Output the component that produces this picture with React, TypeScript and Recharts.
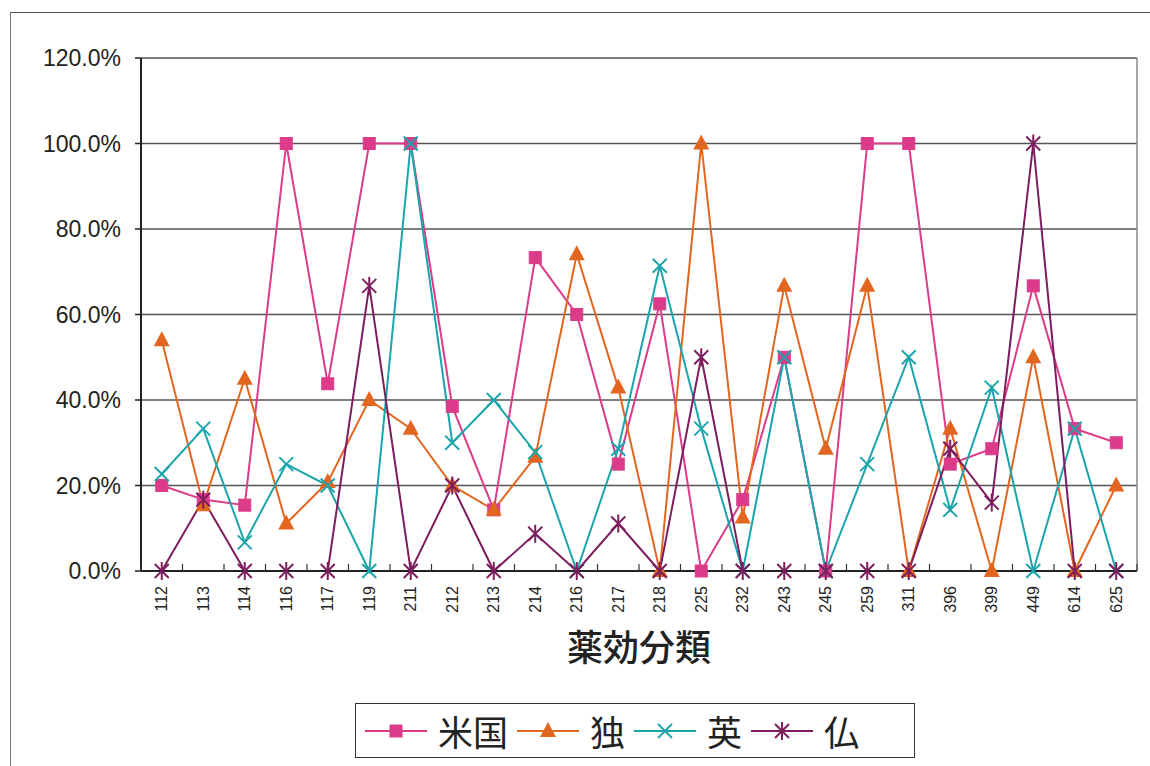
import { LineChart, Line, XAxis, YAxis, CartesianGrid } from "recharts"

const categories = ["112", "113", "114", "116", "117", "119", "211", "212", "213", "214", "216", "217", "218", "225", "232", "243", "245", "259", "311", "396", "399", "449", "614", "625"]
const usa = [20, 16.7, 15.4, 100, 43.8, 100, 100, 38.5, 14.3, 73.3, 60, 25, 62.5, 0, 16.7, 50, 0, 100, 100, 25, 28.6, 66.7, 33.3, 30]
const germany = [54, 15.4, 45, 11.1, 20.8, 40, 33.3, 20, 14.3, 26.7, 74.1, 42.9, 0, 100, 12.5, 66.7, 28.6, 66.7, 0, 33.3, 0, 50, 0, 20]
const uk = [22.7, 33.3, 6.7, 25, 20, 0, 100, 30, 40, 27.8, 0, 28.6, 71.4, 33.3, 0, 50, 0, 25, 50, 14.3, 42.9, 0, 33.3, 0]
const france = [0, 16.7, 0, 0, 0, 66.7, 0, 20, 0, 8.7, 0, 11.1, 0, 50, 0, 0, 0, 0, 0, 28.6, 16, 100, 0, 0]
const yTicks = [0, 20, 40, 60, 80, 100, 120]

const seriesNames = ["米国", "独", "英", "仏"]
const colors = ["#dc3b8a", "#e2661f", "#1ba5ab", "#7d1d5e"]
const markers = ["square", "triangle", "cross", "star"]

const data = categories.map((c, i) => ({ cat: c, usa: usa[i], germany: germany[i], uk: uk[i], france: france[i] }))

const W = 1150
const H = 766
const LEFT = 141
const RIGHT_W = 13
const TOP = 58
const XH = 195
const band = (W - LEFT - RIGHT_W) / categories.length

function Marker({ kind, cx, cy, color }: { kind: string; cx: number; cy: number; color: string }) {
  if (kind === "square") {
    return <rect x={cx - 6} y={cy - 6} width={12} height={12} fill={color} stroke={color} />
  }
  if (kind === "triangle") {
    return <polygon points={`${cx},${cy - 9} ${cx + 8},${cy + 6} ${cx - 8},${cy + 6}`} fill={color} />
  }
  if (kind === "cross") {
    return (
      <g stroke={color} strokeWidth={2}>
        <line x1={cx - 7} y1={cy - 7} x2={cx + 7} y2={cy + 7} />
        <line x1={cx - 7} y1={cy + 7} x2={cx + 7} y2={cy - 7} />
      </g>
    )
  }
  return (
    <g stroke={color} strokeWidth={2}>
      <line x1={cx - 7} y1={cy - 7} x2={cx + 7} y2={cy + 7} />
      <line x1={cx - 7} y1={cy + 7} x2={cx + 7} y2={cy - 7} />
      <line x1={cx} y1={cy - 9} x2={cx} y2={cy + 9} />
    </g>
  )
}

function makeDot(kind: string, color: string) {
  return (props: any) => {
    const { cx, cy, index } = props
    if (cx == null || cy == null) return <g key={`d-${kind}-${index}`} />
    return (
      <g key={`d-${kind}-${index}`}>
        <Marker kind={kind} cx={cx} cy={cy} color={color} />
      </g>
    )
  }
}

function XTick(props: any) {
  const { x, payload, index } = props
  const axisY = H - XH
  const ty = axisY + 15
  return (
    <g>
      <line x1={x - band / 2} y1={axisY} x2={x - band / 2} y2={axisY - 7} stroke="#333" strokeWidth={1.2} />
      {index === categories.length - 1 && (
        <line x1={x + band / 2} y1={axisY} x2={x + band / 2} y2={axisY - 7} stroke="#333" strokeWidth={1.2} />
      )}
      <text
        x={x}
        y={ty}
        transform={`rotate(-90 ${x} ${ty})`}
        textAnchor="end"
        dominantBaseline="central"
        fontSize={16}
        fontFamily="Liberation Sans, Arial, sans-serif"
        fill="#222"
      >
        {payload.value}
      </text>
    </g>
  )
}

export default function App() {
  const keys = ["usa", "germany", "uk", "france"]
  return (
    <div style={{ position: "absolute", left: 0, top: 0, width: W, height: H, background: "#fff", overflow: "hidden" }}>
      <div style={{ position: "absolute", left: 10, top: 12, width: W - 10, height: H - 12, borderTop: "1.5px solid #555", borderLeft: "1.5px solid #777" }} />
      <LineChart width={W} height={H} data={data} margin={{ top: TOP, right: 0, bottom: 0, left: 0 }}>
        <CartesianGrid vertical={false} stroke="#555" strokeWidth={1.5} />
        <XAxis
          dataKey="cat"
          height={XH}
          interval={0}
          padding={{ left: band / 2, right: band / 2 }}
          tick={<XTick />}
          tickLine={false}
          tickSize={0}
          axisLine={{ stroke: "#222", strokeWidth: 2 }}
          label={{ value: "薬効分類", position: "insideTop", offset: 64, fontSize: 36, fontWeight: 500, fill: "#222", fontFamily: "Noto Sans CJK JP, sans-serif" }}
        />
        <YAxis
          width={LEFT}
          domain={[0, 120]}
          ticks={yTicks}
          tickFormatter={(v: number) => v.toFixed(1) + "%"}
          tickSize={6}
          tickMargin={14}
          tickLine={{ stroke: "#222", strokeWidth: 1.5 }}
          axisLine={{ stroke: "#222", strokeWidth: 2 }}
          tick={{ fontSize: 23, fill: "#222", fontFamily: "Liberation Sans, Arial, sans-serif" }}
        />
        <YAxis yAxisId="r" orientation="right" width={RIGHT_W} domain={[0, 120]} tick={false} tickLine={false} axisLine={{ stroke: "#888", strokeWidth: 1.5 }} />
        {keys.map((k, i) => (
          <Line
            key={k}
            dataKey={k}
            name={seriesNames[i]}
            stroke={colors[i]}
            strokeWidth={2}
            isAnimationActive={false}
            dot={makeDot(markers[i], colors[i])}
            activeDot={false}
          />
        ))}
      </LineChart>
      <div
        style={{
          position: "absolute",
          left: 355,
          top: 703,
          width: 560,
          height: 55,
          border: "1.5px solid #333",
          display: "flex",
          alignItems: "center",
          justifyContent: "flex-start",
          paddingLeft: 8,
          boxSizing: "border-box",
          gap: 8,
          fontFamily: "Noto Sans CJK JP, sans-serif",
          fontSize: 35,
          color: "#222",
        }}
      >
        {seriesNames.map((n, i) => (
          <div key={n} style={{ display: "flex", alignItems: "center", gap: 10 }}>
            <svg width={64} height={24}>
              <line x1={1} y1={12} x2={63} y2={12} stroke={colors[i]} strokeWidth={2} />
              <Marker kind={markers[i]} cx={32} cy={12} color={colors[i]} />
            </svg>
            <span style={{ lineHeight: "40px" }}>{n}</span>
          </div>
        ))}
      </div>
    </div>
  )
}
